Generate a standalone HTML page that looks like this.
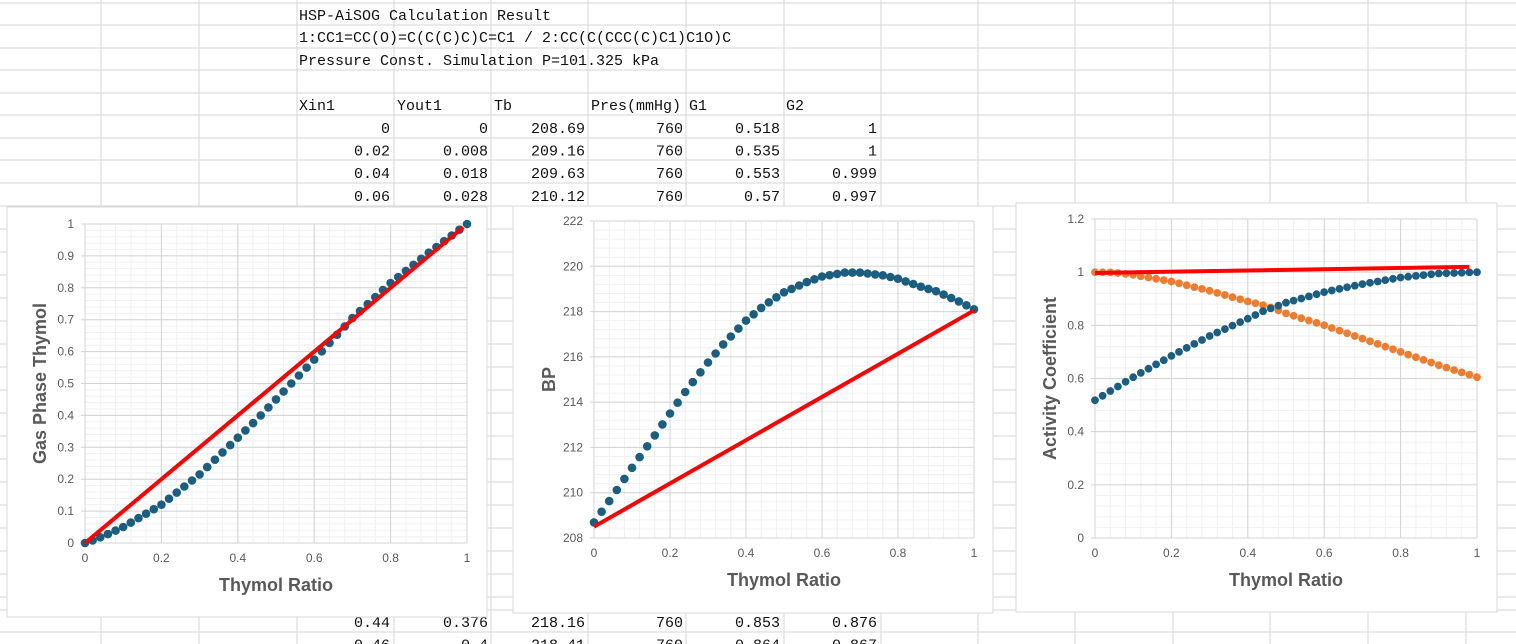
<!DOCTYPE html>
<html><head><meta charset="utf-8">
<style>
html,body{margin:0;padding:0;background:#fff;width:1516px;height:644px;overflow:hidden}
svg{display:block}
</style></head><body>
<svg id="s" width="1516" height="644" xmlns="http://www.w3.org/2000/svg"></svg>
<script>
const S=document.getElementById('s');let h='';
const cols=[101,199,297,394,491,588,686,784,881,978,1075,1173,1270,1368,1466];
const rows=[3,25,48,70,93,115,138,160,183,206,229,252,275,298,321,344,367,390,413,436,459,482,505,528,551,574,597,610,632];
for(const c of cols)h+=`<line x1="${c}" y1="0" x2="${c}" y2="644" stroke="#d6d6d6"/>`;
for(const r of rows)h+=`<line x1="0" y1="${r}" x2="1516" y2="${r}" stroke="#d6d6d6"/>`;
const tf='font-family="Liberation Mono, Noto Sans CJK SC, monospace" font-size="15" fill="#111"';
h+=`<text x="299" y="20" ${tf}>HSP-AiSOG Calculation Result</text>`;
h+=`<text x="299" y="42" ${tf}>1:CC1=CC(O)=C(C(C)C)C=C1 / 2:CC(C(CCC(C)C1)C1O)C</text>`;
h+=`<text x="299" y="65" ${tf}>Pressure Const. Simulation P=101.325 kPa</text>`;
const hd=['Xin1','Yout1','Tb','Pres(mmHg)','G1','G2'];
hd.forEach((t,i)=>h+=`<text x="${[299,397,494,591,689,786][i]}" y="110" ${tf}>${t}</text>`);
const data=[['0','0','208.69','760','0.518','1'],['0.02','0.008','209.16','760','0.535','1'],['0.04','0.018','209.63','760','0.553','0.999'],['0.06','0.028','210.12','760','0.57','0.997']];
data.forEach((r,j)=>r.forEach((t,i)=>h+=`<text x="${[390,488,585,683,780,877][i]}" y="${133+j*22.6}" text-anchor="end" ${tf}>${t}</text>`));
[['0.44','0.376','218.16','760','0.853','0.876'],['0.46','0.4','218.41','760','0.864','0.867']].forEach((r,j)=>r.forEach((t,i)=>h+=`<text x="${[390,488,585,683,780,877][i]}" y="${627+j*22.6}" text-anchor="end" ${tf}>${t}</text>`));
function interp(tab,x){for(let i=0;i<tab.length-1;i++){if(x<=tab[i+1][0]){const [a,b]=tab[i],[c,d]=tab[i+1];return b+(d-b)*(x-a)/(c-a);}}return tab[tab.length-1][1];}
const Y=[[0,0],[.02,.008],[.04,.018],[.06,.028],[.1,.05],[.2,.12],[.3,.215],[.4,.33],[.44,.376],[.46,.4],[.5,.45],[.6,.575],[.7,.705],[.8,.815],[.9,.91],[1,1]];
const T=[[0,208.69],[.02,209.16],[.04,209.63],[.06,210.12],[.1,211.1],[.14,212.05],[.2,213.5],[.24,214.45],[.3,215.75],[.34,216.55],[.4,217.6],[.44,218.16],[.46,218.41],[.5,218.85],[.56,219.3],[.6,219.55],[.66,219.72],[.7,219.72],[.76,219.6],[.8,219.45],[.86,219.1],[.9,218.9],[.96,218.45],[1,218.1]];
const G1=[[0,.518],[.02,.535],[.04,.553],[.06,.57],[.1,.605],[.2,.685],[.3,.76],[.4,.825],[.44,.853],[.5,.885],[.6,.925],[.7,.955],[.8,.98],[.9,.995],[1,1]];
const G2=[[0,1],[.04,.999],[.06,.997],[.1,.99],[.2,.965],[.3,.93],[.4,.89],[.44,.876],[.46,.867],[.5,.845],[.6,.8],[.7,.75],[.8,.7],[.9,.65],[1,.605]];
function chart(b,p,ymin,ymax,ystep,ylabs,ytitle,series,line){
 const [bx,by,bw,bh]=b,[px,py,px2,py2]=p;
 h+=`<rect x="${bx}" y="${by}" width="${bw}" height="${bh}" fill="#fff" stroke="#d9d9d9"/>`;
 const X=v=>px+(px2-px)*v, Yv=v=>py2-(py2-py)*(v-ymin)/(ymax-ymin);
 for(let v=0;v<=1.0001;v+=0.04)h+=`<line x1="${X(v)}" y1="${py}" x2="${X(v)}" y2="${py2}" stroke="#f0f0f0"/>`;
 const ms=ystep/5;for(let v=ymin;v<=ymax+1e-6;v+=ms)h+=`<line x1="${px}" y1="${Yv(v)}" x2="${px2}" y2="${Yv(v)}" stroke="#f0f0f0"/>`;
 for(let i=0;i<=5;i++){const v=i*0.2;h+=`<line x1="${X(v)}" y1="${py}" x2="${X(v)}" y2="${py2}" stroke="#d3d3d3"/><text x="${X(v)}" y="${py2+19}" text-anchor="middle" font-family="Liberation Sans,sans-serif" font-size="12" fill="#595959">${+v.toFixed(1)}</text>`;}
 ylabs.forEach((l,i)=>{const v=ymin+i*ystep;h+=`<line x1="${px-4}" y1="${Yv(v)}" x2="${px2}" y2="${Yv(v)}" stroke="#d3d3d3"/><text x="${px-11}" y="${Yv(v)+4}" text-anchor="end" font-family="Liberation Sans,sans-serif" font-size="12" fill="#595959">${l}</text>`;});
 h+=`<text x="${(px+px2)/2}" y="${py2+48}" text-anchor="middle" font-family="Liberation Sans,sans-serif" font-weight="bold" font-size="18" fill="#595959">Thymol Ratio</text>`;
 const cy=(py+py2)/2;h+=`<text transform="translate(${px-39},${cy}) rotate(-90)" text-anchor="middle" font-family="Liberation Sans,sans-serif" font-weight="bold" font-size="18" fill="#595959">${ytitle}</text>`;
 for(const [tab,col,r] of series){for(let i=0;i<=50;i++){const x=i/50;h+=`<circle cx="${X(x).toFixed(1)}" cy="${Yv(interp(tab,x)).toFixed(1)}" r="${r}" fill="${col}"/>`;}}
 h+=`<line x1="${X(line[0])}" y1="${Yv(line[1])}" x2="${X(line[2])}" y2="${Yv(line[3])}" stroke="#ff0000" stroke-width="4"/>`;
}
chart([7,207,480,410],[85,224,467,543],0,1,0.1,['0','0.1','0.2','0.3','0.4','0.5','0.6','0.7','0.8','0.9','1'],'Gas Phase Thymol',[[Y,'#1b5e80',4.3]],[0,0,0.99,0.99]);
chart([513,206,480,407],[594,221,974,538],208,222,2,['208','210','212','214','216','218','220','222'],'BP',[[T,'#1b5e80',4.3]],[0,208.5,1,218.05]);
chart([1016,203,481,409],[1095,219,1477,538],0,1.2,0.2,['0','0.2','0.4','0.6','0.8','1','1.2'],'Activity Coefficient',[[G2,'#ee7d31',3.9],[G1,'#1b5e80',3.9]],[0,0.997,0.98,1.02]);
S.innerHTML=h;
</script>
</body></html>
